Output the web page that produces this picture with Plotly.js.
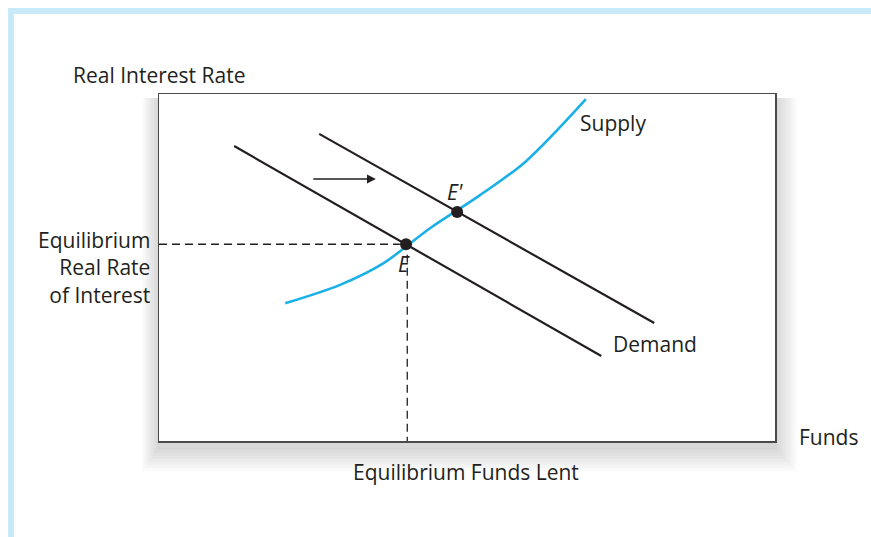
<!DOCTYPE html>
<html>
<head>
<meta charset="utf-8">
<script src="https://cdn.plot.ly/plotly-3.0.1.min.js"></script>
<style>
  html, body { margin: 0; padding: 0; background: #fff; }
  #chart { width: 871px; height: 537px; }
</style>
</head>
<body>
<div id="chart"></div>
<script>
// Loanable funds diagram: demand shifts right, supply curve fixed.
var demandX = [1.22, 7.18];
var demandY = [8.50, 2.45];

var demandNewX = [2.60, 8.04];
var demandNewY = [8.85, 3.40];

var supplyX = [2.05, 2.94, 3.64, 4.40, 5.20, 5.95, 6.93];
var supplyY = [3.97, 4.50, 5.12, 6.13, 7.07, 8.05, 9.85];

var eqX = [4.01, 4.84];
var eqY = [5.67, 6.60];
var eqNames = ["E", "E'"];

var ink = "#231f20";
var font = {family: "Open Sans, sans-serif", size: 21, color: ink};

var traces = [
    // dashed guides to the axes from E
    {x: [0, eqX[0] - 0.1], y: [eqY[0], eqY[0]], mode: "lines",
     line: {color: ink, width: 1.3, dash: "8px,5px"}, hoverinfo: "skip"},
    {x: [eqX[0] + 0.02, eqX[0] + 0.02], y: [eqY[0] - 0.3, 0], mode: "lines",
     line: {color: ink, width: 1.3, dash: "8px,5px"}, hoverinfo: "skip"},
    {x: demandX, y: demandY, mode: "lines", line: {color: ink, width: 2.2}},
    {x: demandNewX, y: demandNewY, mode: "lines", line: {color: ink, width: 2.2}},
    {x: supplyX, y: supplyY, mode: "lines",
     line: {color: "#1ab0e8", width: 2.6, shape: "spline", smoothing: 0.9}},
    {x: eqX, y: eqY, mode: "markers",
     marker: {color: ink, size: 12}}
];

// shadow behind the plot box, then a white box on top of it
var shapes = [];
for (var i = 1; i <= 8; i++) {
    var s = i * 3;
    shapes.push({
        type: "rect", xref: "paper", yref: "paper", layer: "below",
        x0: -(s * 0.7) / 616, x1: 1 + (s * 0.9) / 616,
        y0: -(s + 6) / 347, y1: 1 - 4 / 347,
        line: {width: 0}, fillcolor: "rgba(0,0,0,0.02)"
    });
}
shapes.push({type: "rect", xref: "paper", yref: "paper", layer: "below",
    x0: 0, x1: 1, y0: 0, y1: 1, line: {width: 0}, fillcolor: "#ffffff"});
// light blue frame on top and left of the page
shapes.push({type: "line", xref: "paper", yref: "paper",
    x0: -151 / 616, x1: 712 / 616, y0: 430 / 347, y1: 430 / 347,
    line: {color: "#c8e9f7", width: 6}});
shapes.push({type: "line", xref: "paper", yref: "paper",
    x0: -148 / 616, x1: -148 / 616, y0: 433 / 347, y1: -96 / 347,
    line: {color: "#c8e9f7", width: 6}});

function paperLabel(px, py, text, xanchor) {
    return {x: (px - 159) / 616, y: (441 - py) / 347, xref: "paper", yref: "paper",
            xanchor: xanchor, yanchor: "middle", align: xanchor === "right" ? "right" : "left",
            text: text, showarrow: false, font: font};
}

var annotations = [
    {x: 3.52, y: 7.55, ax: 2.48, ay: 7.55, axref: "x", ayref: "y",
     text: "", showarrow: true, arrowhead: 2, arrowsize: 1.1, arrowwidth: 1.6,
     arrowcolor: ink},
    {x: 6.80, y: 9.16, text: "Supply", showarrow: false, xanchor: "left", font: font},
    {x: 7.34, y: 2.80, text: "Demand", showarrow: false, xanchor: "left", font: font},
    {x: eqX[1] - 0.03, y: 7.18, text: "<i>" + eqNames[1] + "</i>", showarrow: false, font: font},
    {x: eqX[0] - 0.03, y: 5.10, text: "<i>" + eqNames[0] + "</i>", showarrow: false, font: font},
    paperLabel(71, 75, "Real Interest Rate", "left"),
    paperLabel(797, 437, "Funds", "left"),
    paperLabel(466, 472, "Equilibrium Funds Lent", "center"),
    paperLabel(152, 267, "Equilibrium<br>Real Rate<br>of Interest", "right")
];

var layout = {
    width: 871, height: 537,
    margin: {l: 159, r: 96, t: 94, b: 96},
    paper_bgcolor: "#ffffff",
    plot_bgcolor: "rgba(0,0,0,0)",
    showlegend: false,
    font: font,
    xaxis: {range: [0, 10], showgrid: false, zeroline: false, showticklabels: false,
            ticks: "", showline: true, mirror: true, linecolor: "#4a4a4a", linewidth: 1.5},
    yaxis: {range: [0, 10], showgrid: false, zeroline: false, showticklabels: false,
            ticks: "", showline: true, mirror: true, linecolor: "#4a4a4a", linewidth: 1.5},
    shapes: shapes,
    annotations: annotations
};

Plotly.newPlot("chart", traces, layout, {displayModeBar: false, staticPlot: true});
</script>
</body>
</html>
